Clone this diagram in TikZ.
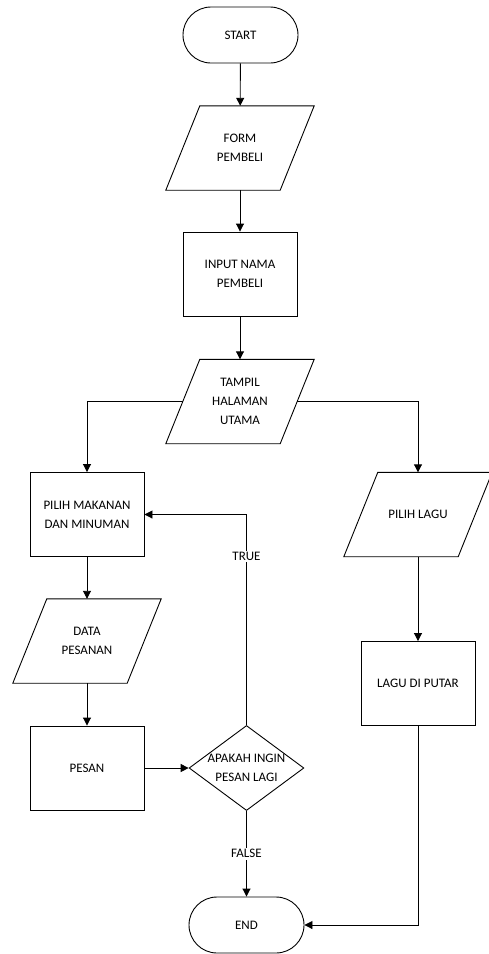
\documentclass[tikz,border=0pt]{standalone}
\usepackage{fontspec}
\setmainfont{Carlito}
\usetikzlibrary{arrows.meta,calc,shapes.geometric}
\begin{document}
\begin{tikzpicture}[x=1pt,y=-1pt,
  every node/.style={font=\fontsize{13}{19}\selectfont, align=center, inner sep=0pt},
  term/.style={draw, line width=0.9pt, rounded corners=28pt, minimum width=115pt, minimum height=56pt},
  proc/.style={draw, line width=0.9pt, minimum width=114pt, minimum height=84pt},
  iobox/.style={minimum width=148pt, minimum height=84pt},
  dec/.style={draw, line width=0.9pt, diamond, minimum width=113pt, minimum height=84pt, aspect=1.35},
  lbl/.style={fill=white, inner sep=1.5pt},
  conn/.style={line width=0.9pt, -{Triangle[length=8pt,width=8pt]}},
  line/.style={line width=0.9pt}]
\useasboundingbox (0,0) rectangle (489,954);
\newcommand{\iodraw}[1]{\draw[line width=0.9pt] (#1.south west) -- ($(#1.north west)+(34,0)$) -- (#1.north east) -- ($(#1.south east)+(-34,0)$) -- cycle;}

\node[term] (start) at (240.5,35) {START};
\node[iobox] (form) at (240,148) {FORM\\PEMBELI};
\iodraw{form}
\node[proc] (input) at (240,274) {INPUT NAMA\\PEMBELI};
\node[iobox] (tampil) at (240,401.5) {TAMPIL\\HALAMAN\\UTAMA};
\iodraw{tampil}
\node[proc] (pilih) at (87,514.5) {PILIH MAKANAN\\DAN MINUMAN};
\node[iobox] (lagu) at (418,514.5) {PILIH LAGU};
\iodraw{lagu}
\node[iobox] (data) at (87,641) {DATA\\PESANAN};
\iodraw{data}
\node[proc] (pesan) at (87,768) {PESAN};
\node[dec] (tanya) at (246.5,768) {APAKAH INGIN\\PESAN LAGI};
\node[proc] (putar) at (418,683.5) {LAGU DI PUTAR};
\node[term] (end) at (246.5,925) {END};

\draw[conn] (start) -- (form);
\draw[conn] (form) -- (input);
\draw[conn] (input) -- (tampil);
\coordinate (tl) at ($(tampil.west)+(17,0)$);
\coordinate (tr) at ($(tampil.east)+(-17,0)$);
\draw[conn] (tl) -| (pilih.north);
\draw[conn] (tr) -| (lagu.north);
\draw[conn] (pilih) -- (data);
\draw[conn] (data) -- (pesan);
\draw[conn] (pesan) -- (tanya);
\draw[conn] (tanya.north) |- (pilih.east) node[pos=0.4, lbl] {TRUE};
\draw[conn] (tanya.south) -- (end.north) node[midway, lbl] {FALSE};
\draw[conn] (lagu) -- (putar);
\draw[conn] (putar.south) |- (end.east);
\end{tikzpicture}
\end{document}
